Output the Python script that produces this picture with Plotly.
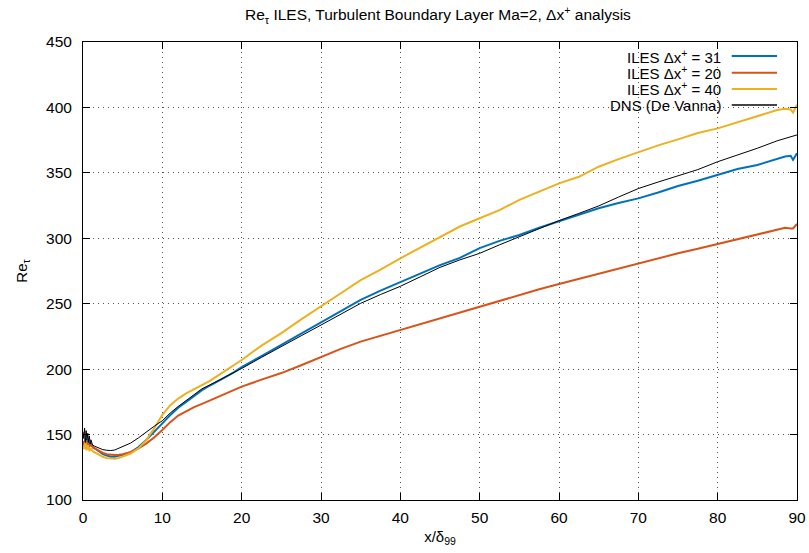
import plotly.graph_objects as go

# ---------------- data ----------------
x_iles = [0, 0.15, 0.3, 0.45, 0.6, 0.8, 1.0, 1.3, 1.6, 2.0, 2.5, 3.0, 3.5, 4.0, 4.5, 5, 6, 7, 8, 9,
          10, 11, 12, 13, 14, 15, 16, 17, 18, 19, 20, 22.5, 25, 27.5, 30, 32.5, 35, 37.5, 40, 42.5,
          45, 47.5, 50, 52.5, 55, 57.5, 60, 62.5, 65, 67.5, 70, 72.5, 75, 77.5, 80, 82.5, 85, 87.5,
          88.5, 89.2, 89.5, 90]

re_dx31 = [145, 141, 147, 143, 146, 142, 143, 140, 139, 137, 135, 134, 133, 133, 133.5, 134.5, 136.5,
           140.5, 146, 152, 158.6, 165, 170.5, 175, 179.5, 184, 187.5, 190.5, 194, 197.5, 201.5, 210,
           218.5, 227, 236, 244, 253, 260, 266.5, 273, 279.5, 285, 292.5, 298, 302.5, 308, 313, 318.5,
           323, 327, 330.5, 335, 340, 344, 348.4, 353, 356, 361, 362.5, 363, 360, 365]

re_dx20 = [145, 142, 146, 141, 144, 141, 142, 140, 139, 137.5, 136, 135, 134.5, 134.4, 134.6, 135, 136.5,
           139.5, 143.3, 148, 153.5, 159.5, 164.5, 168, 171, 173.5, 176, 178.5, 181, 184, 186.6, 192,
           197, 203, 209.5, 215.5, 221, 225.5, 230, 234.5, 239, 243.5, 247.7, 252.5, 256.7, 261, 265,
           269, 273, 277, 281, 285, 288.5, 292, 295.6, 299, 302.5, 306.5, 308, 307.5, 307.5, 311]

re_dx40 = [142, 139, 144, 138, 142, 138, 139, 137, 136, 134.5, 133, 132, 131.5, 131.5, 132, 133, 135.5,
           139.5, 146, 155, 165, 172.5, 177.5, 181.5, 184.5, 187.5, 191, 195, 199, 203, 207, 218,
           227.5, 238, 248.3, 258, 268, 276, 284.7, 293, 301.2, 309, 315.3, 321.5, 329.3, 335.5, 342,
           347, 354.7, 360.5, 366, 371, 375.6, 380.5, 384, 388.5, 393.5, 398, 399, 398.5, 396, 402]

x_dns = [0, 0.1, 0.2, 0.3, 0.4, 0.5, 0.6, 0.7, 0.8, 0.9, 1.0, 1.2, 1.5, 2, 2.5, 3, 3.5, 4, 4.5, 5, 6,
         7, 8, 9, 10, 11, 12, 13, 14, 15, 16, 17, 18, 19, 20, 22.5, 25, 27.5, 30, 32.5, 35, 37.5,
         40, 42.5, 45, 47.5, 50, 52.5, 55, 57.5, 60, 62.5, 65, 67.5, 70, 72.5, 75, 77.5, 80, 82.5,
         85, 87.5, 90]

re_dns = [152, 147, 155, 144, 153, 146, 151, 144, 149, 143, 146, 142, 141, 139.5, 138.5, 138, 137.8,
          138.2, 139.5, 141, 143.5, 147.5, 152.2, 156.5, 160.6, 166.5, 171.5, 176, 180.5, 185, 188,
          191, 194.5, 197.5, 200.5, 209, 217, 225.5, 233.7, 242, 250.3, 257, 263.3, 270.5, 277.8,
          283.5, 288.5, 295, 301.2, 307, 313.5, 319, 324.7, 331.5, 338, 343, 347.6, 352.5, 358.5,
          363.5, 368.8, 374.5, 379]

series_names = ["ILES Δx<sup>+</sup> = 31", "ILES Δx<sup>+</sup> = 20",
                "ILES Δx<sup>+</sup> = 40", "DNS (De Vanna)"]
x_ticks = [0, 10, 20, 30, 40, 50, 60, 70, 80, 90]
y_ticks = [100, 150, 200, 250, 300, 350, 400, 450]

# ---------------- figure ----------------
colors = ["#0072BD", "#D95319", "#EDB120", "#000000"]
widths = [2, 2, 2, 1]
xs = [x_iles, x_iles, x_iles, x_dns]
ys = [re_dx31, re_dx20, re_dx40, re_dns]

fig = go.Figure()
for xv, yv, name, c, w in zip(xs, ys, series_names, colors, widths):
    fig.add_trace(go.Scatter(x=xv, y=yv, mode="lines", name=name,
                             line=dict(color=c, width=w), showlegend=False))

font = "Liberation Sans, Arial, sans-serif"

# legend (gnuplot style: right-aligned text, sample on the right)
row_y = [0.9694, 0.9330, 0.8974, 0.8624]
shapes = [dict(type="rect", xref="paper", yref="paper", x0=0.711, x1=0.978, y0=0.848, y1=0.988,
               fillcolor="white", line=dict(width=0), layer="between")]
annotations = []
for name, c, yy in zip(series_names, colors, row_y):
    annotations.append(dict(xref="paper", yref="paper", x=0.897, y=yy, text=name, showarrow=False,
                            xanchor="right", yanchor="middle",
                            font=dict(family=font, size=15, color="black")))
    shapes.append(dict(type="line", xref="paper", yref="paper", x0=0.9086, x1=0.972, y0=yy, y1=yy,
                       line=dict(color=c if c != "#000000" else "#444444", width=2), layer="above"))

fig.update_layout(
    width=809, height=553,
    margin=dict(l=83, r=12, t=42, b=53, autoexpand=False),
    paper_bgcolor="white", plot_bgcolor="white",
    font=dict(family=font, size=14, color="black"),
    title=dict(text="Re<sub>τ</sub> ILES, Turbulent Boundary Layer Ma=2, Δx<sup>+</sup> analysis",
               x=0.5413, xanchor="center", y=0.973, yanchor="middle", automargin=False,
               font=dict(family=font, size=15.5)),
    shapes=shapes, annotations=annotations,
)

axis_common = dict(showline=True, linecolor="black", linewidth=1, mirror="allticks",
                   ticks="inside", ticklen=7, tickcolor="black", tickwidth=1,
                   showgrid=True, gridcolor="#555555", griddash="1px,4px", gridwidth=1,
                   zeroline=False, automargin=False, tickfont=dict(family=font, size=15.5))

fig.update_xaxes(range=[0, 90], tickvals=x_ticks, ticklabelstandoff=3,
                 title=dict(text="x/δ<sub>99</sub>", font=dict(family=font, size=15), standoff=6),
                 **axis_common)
fig.update_yaxes(range=[100, 450], tickvals=y_ticks, ticklabelstandoff=7,
                 title=dict(text="Re<sub>τ</sub>", font=dict(family=font, size=15), standoff=14),
                 **axis_common)

fig.write_html("out.html")
